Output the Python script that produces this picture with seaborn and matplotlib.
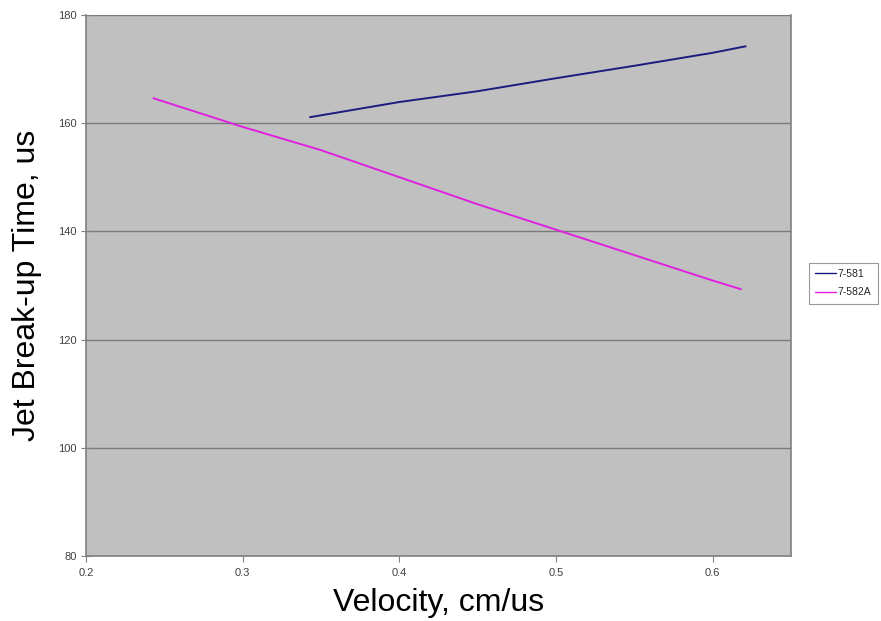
import numpy as np
import pandas as pd
import matplotlib
matplotlib.use('Agg')
import matplotlib.pyplot as plt
import seaborn as sns

# Data
vel_581 = [0.343, 0.40, 0.45, 0.50, 0.55, 0.60, 0.621]
time_581 = [161.1, 163.9, 165.9, 168.3, 170.6, 173.0, 174.2]

vel_582a = [0.243, 0.30, 0.35, 0.40, 0.45, 0.50, 0.55, 0.60, 0.618]
time_582a = [164.6, 159.3, 155.0, 150.0, 145.0, 140.3, 135.6, 130.9, 129.3]

series_names = ['7-581', '7-582A']
x_ticks = [0.2, 0.3, 0.4, 0.5, 0.6]
y_ticks = [80, 100, 120, 140, 160, 180]

df = pd.concat([
    pd.DataFrame({'velocity': vel_581, 'time': time_581, 'series': series_names[0]}),
    pd.DataFrame({'velocity': vel_582a, 'time': time_582a, 'series': series_names[1]}),
])

sns.set_theme(style='white')
plt.rcParams['font.family'] = ['Liberation Sans', 'DejaVu Sans']

fig = plt.figure(figsize=(8.81, 6.21), dpi=100)
ax = fig.add_axes([0.0976, 0.1047, 0.8004, 0.8713])
ax.set_facecolor('#c0c0c0')

sns.lineplot(data=df, x='velocity', y='time', hue='series',
             palette={'7-581': '#1c1c80', '7-582A': '#e020e0'},
             linewidth=1.4, sort=False, estimator=None, ax=ax)

ax.set_xlim(0.2, 0.65)
ax.set_ylim(80, 180)
ax.set_xticks(x_ticks)
ax.set_xticklabels([str(v) for v in x_ticks])
ax.set_yticks(y_ticks)
ax.yaxis.grid(True, color='#7a7a7a', linewidth=1.0)
ax.set_axisbelow(True)

for side in ['left', 'bottom', 'right', 'top']:
    ax.spines[side].set_color('#808080')
    ax.spines[side].set_linewidth(1.2)
ax.spines['top'].set_visible(False)

ax.tick_params(axis='x', direction='out', length=4, width=0.8, color='#808080',
               labelsize=8, labelcolor='#404040', pad=5)
ax.tick_params(axis='y', direction='inout', length=7, width=0.8, color='#808080',
               labelsize=8, labelcolor='#404040', pad=3)
ax.tick_params(bottom=True, left=True)

ax.set_xlabel('Velocity, cm/us', fontsize=23, labelpad=7, color='black')
ax.set_ylabel('Jet Break-up Time, us', fontsize=23, labelpad=12, color='black')

leg = ax.legend(loc='upper left', bbox_to_anchor=(1.025, 0.542), fontsize=7.5,
                frameon=True, fancybox=False, handlelength=2.0,
                handletextpad=0.2, borderpad=0.6, labelspacing=0.8,
                borderaxespad=0)
leg.get_frame().set_edgecolor('#808080')
leg.get_frame().set_linewidth(0.8)
for line in leg.get_lines():
    line.set_linewidth(1.0)

fig.savefig('out.png', dpi=100)
